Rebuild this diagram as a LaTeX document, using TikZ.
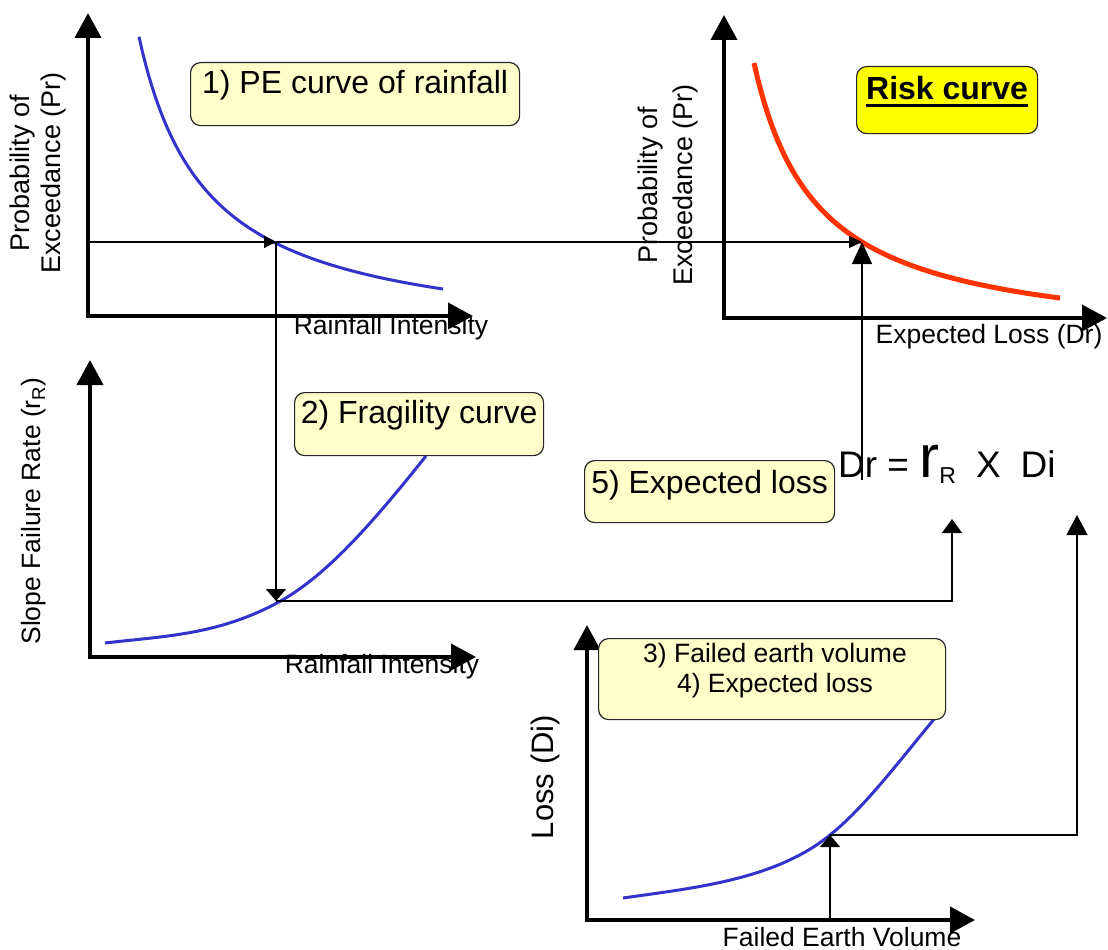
\documentclass[tikz,border=0pt]{standalone}
\usepackage{fontspec}
\setmainfont{Liberation Sans}
\usetikzlibrary{arrows.meta}
\definecolor{curveblue}{RGB}{51,51,204}
\definecolor{riskred}{RGB}{255,51,0}
\definecolor{boxfill}{RGB}{255,255,204}
\definecolor{riskfill}{RGB}{255,255,0}
\newcommand\myul[1]{\setbox0\hbox{#1}\rlap{\rule[-7pt]{\wd0}{3pt}}\box0}
\begin{document}
\begin{tikzpicture}[x=1pt,y=-1pt,
  axis/.style={line width=4pt, arrows={Triangle[width=26pt,length=25pt]-Triangle[width=26pt,length=25pt]}},
  conn/.style={line width=1.3pt},
  bluecurve/.style={line width=3pt, draw=curveblue},
  redcurve/.style={line width=5pt, draw=riskred},
  box/.style={draw=black!85, line width=1.2pt, fill=boxfill, rounded corners=10pt,
    inner xsep=0pt, inner ysep=8pt, text height=23pt, anchor=north west,
    font=\fontsize{32}{38}\selectfont},
  axlabel/.style={inner sep=0pt, font=\fontsize{26.5}{30}\selectfont},
]
\useasboundingbox (0,0) rectangle (1108,950);

% ---------- Panel 1: PE curve ----------
\coordinate (o1) at (88,316);
\coordinate (t1) at (88,13);
\coordinate (r1) at (473,316);
\draw[axis] (t1) -- (o1) -- (r1);
\draw[bluecurve] plot[domain=139:443, samples=90] (\x, {345-208/((\x-71.5)/100)});
\node[box, minimum width=329pt, text depth=24pt] (b1) at (190,62) {1) PE curve of rainfall};
\node[axlabel, rotate=90, align=center, font=\fontsize{27}{31}\selectfont] (yl1) at (38,173) {Probability of\\Exceedance (Pr)};
\node[axlabel, anchor=base] (xl1) at (391,334) {Rainfall Intensity};

% ---------- Panel 2: Fragility ----------
\coordinate (o2) at (90,657);
\coordinate (t2) at (90,360);
\coordinate (r2) at (476,657);
\draw[axis] (t2) -- (o2) -- (r2);
\draw[bluecurve] (105,643) .. controls (165,636) and (217,635) .. (277,603)
                 .. controls (327,576.5) and (376,518.5) .. (426,456);
\node[box, minimum width=249pt, text depth=24pt] (b2) at (294,392) {2) Fragility curve};
\node[axlabel, rotate=90, font=\fontsize{26.5}{30}\selectfont] (yl2) at (34,511) {Slope Failure Rate (r\textsubscript{R})};
\node[axlabel, anchor=base] (xl2) at (382,673) {Rainfall Intensity};

% ---------- Panel 3: Risk curve ----------
\coordinate (o3) at (724,318);
\coordinate (t3) at (724,15);
\coordinate (r3) at (1107,318);
\draw[axis] (t3) -- (o3) -- (r3);
\draw[redcurve] plot[domain=754:1060, samples=90] (\x, {346.4-178.5/((\x-691)/100)});
\node[box, fill=riskfill, minimum width=181pt, text height=25pt, text depth=26pt, font=\fontsize{32}{38}\selectfont\bfseries] (b3) at (856,66) {\myul{Risk curve}};
\node[axlabel, rotate=90, align=center, font=\fontsize{27}{35}\selectfont] (yl3) at (668,185) {Probability of\\Exceedance (Pr)};
\node[axlabel, anchor=base] (xl3) at (989,343) {Expected Loss (Dr)};

% ---------- Panel 4: Loss ----------
\coordinate (o4) at (587,920);
\coordinate (t4) at (587,625);
\coordinate (r4) at (975,920);
\draw[axis] (t4) -- (o4) -- (r4);
\draw[bluecurve] (623,898) .. controls (693,888) and (775,880) .. (830,835)
                 .. controls (865,807) and (900,760) .. (935,718);
\node[box, minimum width=347pt, minimum height=81pt, text height=0pt, text depth=0pt] (b34) at (598,638) {};
\node[inner sep=0pt, align=center, anchor=north, font=\fontsize{26.5}{30}\selectfont] (t34) at (775,643) {3) Failed earth volume\\4) Expected loss};
\node[axlabel, rotate=90, font=\fontsize{31}{35}\selectfont] (yl4) at (545,777) {Loss (Di)};
\node[axlabel, anchor=base] (xl4) at (842,946) {Failed Earth Volume};

% ---------- Expected loss ----------
\node[box, minimum width=250pt, text height=25pt, text depth=21pt] (b5) at (584,460) {5) Expected loss};
\node[anchor=base west, inner sep=0pt, font=\fontsize{37}{40}\selectfont] (eq) at (838,477)
  {Dr = {\fontsize{60}{60}\selectfont r}\raisebox{-6pt}{\fontsize{23}{23}\selectfont R}\hspace*{20pt}X\hspace*{20pt}Di};

% ---------- Connectors ----------
\coordinate (y1) at (88,242);
\coordinate (pe) at (276,242);
\coordinate (rk) at (862,242);
\coordinate (fr) at (276,601);
\coordinate (rR) at (952,519);
\coordinate (eqD) at (862,480);
\coordinate (fx) at (830,920);
\coordinate (ls) at (830,835);
\coordinate (di) at (1077,515);
\draw[conn, -{Triangle[width=12pt,length=12pt]}] (y1) -- (pe);
\draw[conn, -{Triangle[width=12pt,length=13pt]}] (pe) -- (rk);
\draw[conn, -{Triangle[width=20pt,length=12pt]}] (pe) -- (fr);
\draw[conn, -{Triangle[width=20pt,length=14pt]}] (fr) -| (rR);
\draw[conn, -{Triangle[width=20pt,length=22pt]}] (eqD) -- (rk);
\draw[conn, -{Triangle[width=20pt,length=12pt]}] (fx) -- (ls);
\draw[conn, -{Triangle[width=21pt,length=20pt]}] (ls) -| (di);
\end{tikzpicture}
\end{document}
